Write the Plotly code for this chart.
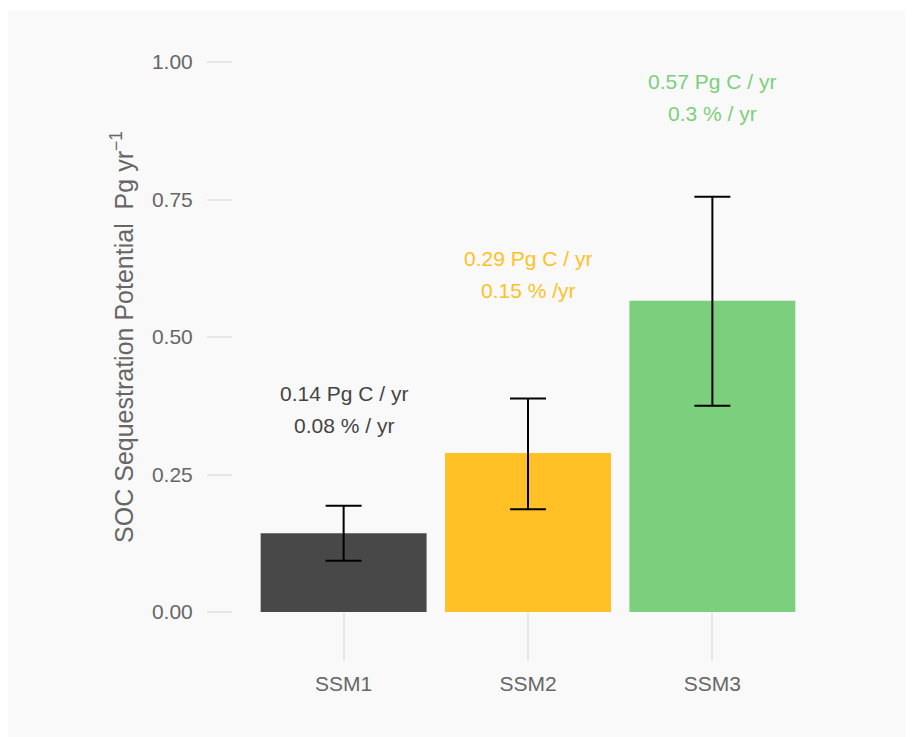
import plotly.graph_objects as go

categories = ["SSM1", "SSM2", "SSM3"]
values = [0.143, 0.289, 0.566]
err_low = [0.093, 0.187, 0.375]
err_high = [0.193, 0.388, 0.755]
label_y = [0.369, 0.613, 0.935]
label_line1 = ["0.14 Pg C / yr", "0.29 Pg C / yr", "0.57 Pg C / yr"]
label_line2 = ["0.08 % / yr", "0.15 % /yr", "0.3 % / yr"]
bar_colors = ["#484848", "#FFC125", "#7CCF7C"]
label_colors = ["#444444", "#FFC125", "#7CCF7C"]
y_ticks = [0, 0.25, 0.5, 0.75, 1.0]

font_family = "Liberation Sans, Arial, sans-serif"

fig = go.Figure()
fig.add_trace(go.Bar(
    x=categories, y=values,
    marker=dict(color=bar_colors, line=dict(width=0)),
    width=0.9,
    error_y=dict(
        type="data", symmetric=False,
        array=[h - v for h, v in zip(err_high, values)],
        arrayminus=[v - l for v, l in zip(values, err_low)],
        color="black", thickness=2, width=18,
    ),
    showlegend=False,
))

for c, yv, t1, t2, col in zip(categories, label_y, label_line1, label_line2, label_colors):
    fig.add_annotation(x=c, y=yv, text=t1, showarrow=False, yshift=16,
                       font=dict(family=font_family, size=21, color=col),
                       align="center", yanchor="middle")
    fig.add_annotation(x=c, y=yv, text=t2, showarrow=False, yshift=-16,
                       font=dict(family=font_family, size=21, color=col),
                       align="center", yanchor="middle")

W, H = 913, 737
L, T = 225, 54
pw, ph = 590, 550
R, B = W - L - pw, H - T - ph

# light grey panel (starts 3px below the figure top)
fig.add_shape(type="rect", xref="paper", yref="paper",
              x0=(0 - L) / pw, x1=(W + 10 - L) / pw,
              y0=(H - B - (H + 10)) / ph, y1=(H - B - 3) / ph,
              fillcolor="#f9f9f9", line=dict(width=0), layer="below")

fig.update_layout(
    width=W, height=H,
    margin=dict(l=L, r=R, t=T, b=B, pad=0),
    paper_bgcolor="white",
    plot_bgcolor="rgba(0,0,0,0)",
    font=dict(family=font_family, color="#666666"),
    bargap=0.1,
    xaxis=dict(
        range=[-0.6, 2.6], showgrid=False, zeroline=False, showline=False,
        ticks="outside", ticklen=48, tickwidth=2, tickcolor="#e6e6e6",
        tickfont=dict(size=21, color="#666666"),
        ticklabelstandoff=5,
    ),
    yaxis=dict(
        range=[0, 1.0], showgrid=False, zeroline=False, showline=False,
        tickvals=y_ticks, tickformat=".2f",
        ticks="outside", ticklen=25, tickwidth=2, tickcolor="#e6e6e6",
        tickfont=dict(size=21, color="#666666"),
        ticklabelstandoff=10,
        title=dict(text="SOC Sequestration Potential  Pg yr<sup>−1</sup>",
                   font=dict(size=25, color="#666666"), standoff=11),
    ),
)

fig.write_html("out.html")
